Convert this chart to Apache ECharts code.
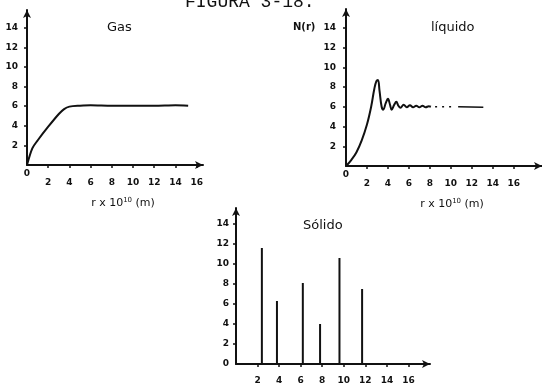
<!DOCTYPE html>
<html>
<head>
<meta charset="utf-8">
<script src="https://cdn.jsdelivr.net/npm/echarts@6/dist/echarts.min.js"></script>
<style>
  html, body { margin: 0; padding: 0; background: #fff; }
  #chart { width: 542px; height: 385px; }
</style>
</head>
<body>
<div id="chart"></div>
<script>
// marcas de los ejes
var xTicks = [0, 2, 4, 6, 8, 10, 12, 14, 16];
var xTicksNoZero = [2, 4, 6, 8, 10, 12, 14, 16];
var yTicks = [2, 4, 6, 8, 10, 12, 14];
var yTicksZero = [0, 2, 4, 6, 8, 10, 12, 14];

// Gas
var gasR = [0, 0.5, 1, 2, 3, 3.5, 4, 5, 6, 8, 10, 12, 14, 15.2];
var gasN = [0, 1.7, 2.5, 3.9, 5.2, 5.7, 5.95, 6.05, 6.1, 6.05, 6.05, 6.05, 6.1, 6.05];

// Liquido
var liqR = [0, 0.5, 1, 1.5, 2, 2.4, 2.7, 2.9, 3.05, 3.2, 3.4, 3.55, 3.8, 4.0, 4.2, 4.35, 4.6, 4.8, 5.0, 5.2, 5.5, 5.8, 6.1, 6.4, 6.7, 7.0, 7.3, 7.6, 7.9, 8.1];
var liqN = [0, 0.6, 1.4, 2.6, 4.2, 6.0, 7.8, 8.6, 8.7, 7.6, 6.0, 5.7, 6.4, 6.8, 6.2, 5.7, 6.2, 6.5, 6.1, 5.9, 6.2, 5.95, 6.15, 5.95, 6.1, 5.95, 6.1, 5.95, 6.05, 6.0];
var liqDotR = [8.5, 10.2];
var liqDotN = [6.0, 6.0];
var liqDashR = [10.7, 13.1];
var liqDashN = [6.0, 5.95];

// Solido
var solR = [2.4, 3.8, 6.2, 7.8, 9.6, 11.7];
var solN = [11.6, 6.3, 8.1, 4.0, 10.6, 7.5];

function zip(a, b) {
    return a.map(function(v, i) { return [v, b[i]]; });
}

var ink = '#111';
var labFont = { color: ink, fontSize: 9, fontWeight: 'bold', fontFamily: 'DejaVu Sans' };

function axisLine() {
    return { show: true, symbol: ['none', 'arrow'], symbolSize: [6, 8], lineStyle: { color: ink, width: 2 } };
}

function xAxis(grid, max, ticks, zeroLow, withName) {
    var ax = {
        type: 'value', gridIndex: grid, min: 0, max: max,
        axisLine: axisLine(),
        axisTick: { show: true, length: 3, customValues: xTicksNoZero, lineStyle: { color: ink, width: 1.5 } },
        splitLine: { show: false },
        axisLabel: Object.assign({
            customValues: ticks,
            margin: zeroLow ? 3 : 12,
            formatter: function(v) { return zeroLow ? (v === 0 ? '{z|0}' : '{n|' + v + '}') : String(v); },
            rich: { z: { fontSize: 9, fontWeight: 'bold', lineHeight: 12 }, n: { fontSize: 9, fontWeight: 'bold', lineHeight: 30 } }
        }, labFont)
    };
    if (withName) {
        ax.name = 'r x 10{s|10} (m)';
        ax.nameLocation = 'middle';
        ax.nameGap = 32;
        ax.nameTextStyle = {
            color: ink, fontSize: 11, fontFamily: 'DejaVu Sans', padding: [0, 0, 0, 16],
            rich: { s: { fontSize: 7, verticalAlign: 'top', padding: [0, 0, 6, 0] } }
        };
    }
    return ax;
}

function yAxis(grid, max, ticks, margin) {
    return {
        type: 'value', gridIndex: grid, min: 0, max: max,
        axisLine: axisLine(),
        axisTick: { show: true, length: 3, customValues: yTicks, lineStyle: { color: ink, width: 1.5 } },
        splitLine: { show: false },
        axisLabel: Object.assign({ customValues: ticks, margin: margin }, labFont)
    };
}

var handFont = { color: ink, fontSize: 13, fontWeight: 'normal', fontFamily: 'DejaVu Sans' };

var chart = echarts.init(document.getElementById('chart'));
chart.setOption({
    backgroundColor: '#fff',
    animation: false,
    title: [
        { text: 'FIGURA 3-18:', left: 180, top: -12, textStyle: { color: ink, fontSize: 18, fontWeight: 'normal', fontFamily: 'Liberation Mono' } },
        { text: 'Gas', left: 102, top: 16, textStyle: handFont },
        { text: 'líquido', left: 426, top: 16, textStyle: handFont },
        { text: 'Sólido', left: 298, top: 214, textStyle: handFont },
        { text: 'N(r)', left: 288, top: 17, textStyle: { color: ink, fontSize: 10, fontWeight: 'bold', fontFamily: 'DejaVu Sans' } }
    ],
    grid: [
        { left: 27, top: 10, width: 176, height: 155 },
        { left: 346, top: 9, width: 196, height: 157 },
        { left: 236, top: 208, width: 194, height: 156 }
    ],
    xAxis: [
        xAxis(0, 16.6, xTicks, true, true),
        xAxis(1, 18.7, xTicks, true, true),
        xAxis(2, 18.0, xTicksNoZero, false, false)
    ],
    yAxis: [
        yAxis(0, 15.8, yTicks, 9),
        yAxis(1, 15.9, yTicks, 10),
        yAxis(2, 15.6, yTicksZero, 7)
    ],
    series: [
        {
            name: 'Gas', type: 'line', xAxisIndex: 0, yAxisIndex: 0,
            data: zip(gasR, gasN), smooth: 0.3, showSymbol: false,
            lineStyle: { color: ink, width: 2 }
        },
        {
            name: 'Liquido', type: 'line', xAxisIndex: 1, yAxisIndex: 1,
            data: zip(liqR, liqN), smooth: 0.4, showSymbol: false,
            lineStyle: { color: ink, width: 2 }
        },
        {
            name: 'Liquido puntos', type: 'line', xAxisIndex: 1, yAxisIndex: 1,
            data: zip(liqDotR, liqDotN), showSymbol: false,
            lineStyle: { color: ink, width: 1.5, type: [2, 5] }
        },
        {
            name: 'Liquido trazo', type: 'line', xAxisIndex: 1, yAxisIndex: 1,
            data: zip(liqDashR, liqDashN), showSymbol: false,
            lineStyle: { color: ink, width: 1.5 }
        },
        {
            name: 'Solido', type: 'bar', xAxisIndex: 2, yAxisIndex: 2,
            data: zip(solR, solN), barWidth: 2,
            itemStyle: { color: ink }
        }
    ]
});
</script>
</body>
</html>
